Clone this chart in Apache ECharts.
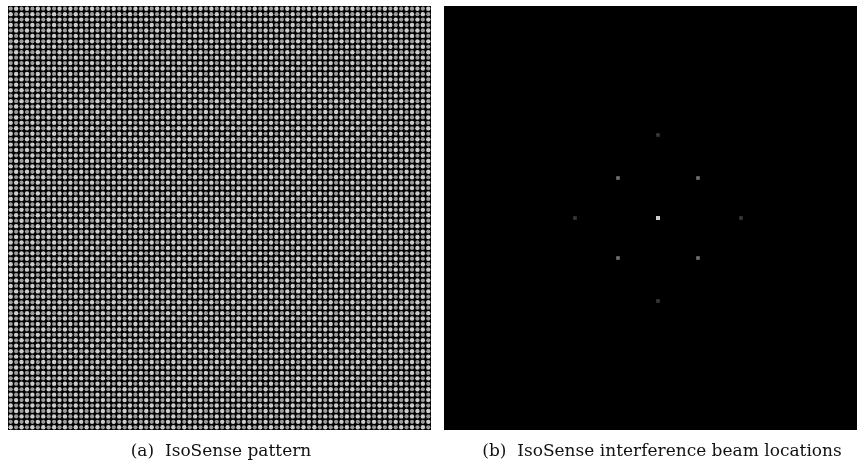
<!DOCTYPE html>
<html>
<head>
<meta charset="utf-8">
<script src="https://cdn.jsdelivr.net/npm/echarts@6/dist/echarts.min.js"></script>
<style>
html,body{margin:0;padding:0;background:#fff;}
#c{width:857px;height:468px;}
</style>
</head>
<body>
<div id="c"></div>
<script>
// ---- data ----
// IsoSense pattern: square lattice of spots (count per side), checkerboard of bright / dim spots
const latticeCount = 78;
const latticeIndex = Array.from({length: latticeCount}, (_, i) => i);
// Interference beam locations (offset from centre, in display pixels) and relative intensity
const beamX = [0, -40, 40, -40, 40, -83, 83, 0, 0];
const beamY = [0, 40, 40, -40, -40, 0, 0, 83, -83];
const beamLevel = [1.0, 0.55, 0.55, 0.55, 0.55, 0.28, 0.28, 0.28, 0.28];
const captions = ['(a)  IsoSense pattern', '(b)  IsoSense interference beam locations'];

const brightSpots = [], dimSpots = [];
latticeIndex.forEach(i => latticeIndex.forEach(j => {
  const p = [i + 0.5, j + 0.5];
  if ((i + j) % 2 === 0) brightSpots.push(p); else dimSpots.push(p);
}));

function grey(l) { const v = Math.round(255 * l); return 'rgb(' + v + ',' + v + ',' + v + ')'; }
const beamData = beamX.map((x, k) => ({value: [x, beamY[k]], itemStyle: {color: grey(beamLevel[k])}, symbolSize: k === 0 ? 4 : 3.6}));

const chart = echarts.init(document.getElementById('c'), null, {renderer: 'canvas'});
chart.setOption({
  animation: false,
  backgroundColor: '#fff',
  grid: [
    {left: 8, top: 6, width: 423, height: 424, show: true, backgroundColor: '#000', borderWidth: 0},
    {left: 444, top: 6, width: 413, height: 424, show: true, backgroundColor: '#000', borderWidth: 0}
  ],
  xAxis: [
    {gridIndex: 0, type: 'value', min: 0, max: latticeCount, show: false},
    {gridIndex: 1, type: 'value', min: -214, max: 199, show: false}
  ],
  yAxis: [
    {gridIndex: 0, type: 'value', min: 0, max: latticeCount, show: false},
    {gridIndex: 1, type: 'value', min: -212, max: 212, show: false}
  ],
  series: [
    {type: 'scatter', xAxisIndex: 0, yAxisIndex: 0, data: dimSpots, symbol: 'circle', symbolSize: 4.2,
      itemStyle: {color: '#c4c4c4'}, silent: true, large: false},
    {type: 'scatter', xAxisIndex: 0, yAxisIndex: 0, data: brightSpots, symbol: 'circle', symbolSize: 4.4,
      itemStyle: {color: '#ffffff'}, silent: true, large: false},
    {type: 'scatter', xAxisIndex: 1, yAxisIndex: 1, data: beamData, symbol: 'rect', silent: true}
  ],
  graphic: [
    {type: 'text', x: 221, y: 452, style: {text: captions[0], align: 'center', verticalAlign: 'middle',
      font: '17px "DejaVu Serif"', fill: '#111'}},
    {type: 'text', x: 662, y: 452, style: {text: captions[1], align: 'center', verticalAlign: 'middle',
      font: '17px "DejaVu Serif"', fill: '#111'}}
  ]
});
</script>
</body>
</html>
